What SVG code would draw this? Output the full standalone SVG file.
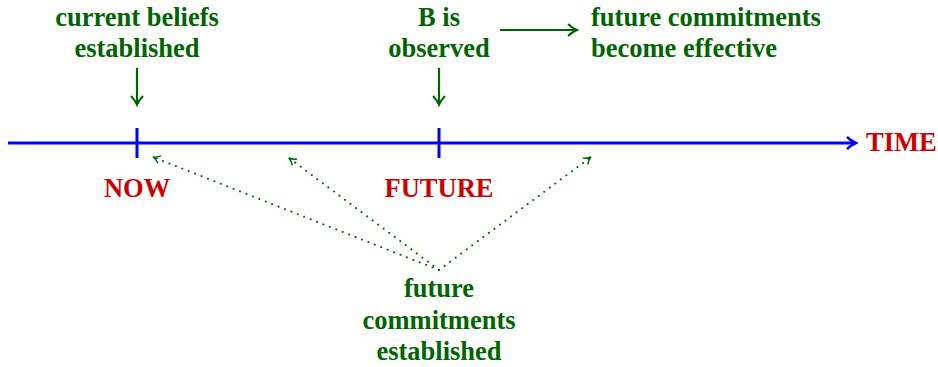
<svg xmlns="http://www.w3.org/2000/svg" width="938" height="367" viewBox="0 0 938 367">
<style>
text{font-family:"Liberation Serif","Times New Roman",Times,"DejaVu Serif","Noto Serif",serif;font-weight:700;font-size:26.5px}
.g{fill:#006400}
.r{fill:#cc0000}
.ax{stroke:#0000ff;stroke-width:3;fill:none}
.ga{stroke:#006400;stroke-width:2.2;fill:none}
.dot{stroke:#006400;stroke-width:2;fill:none;stroke-dasharray:0.1 6.8;stroke-linecap:round}
</style>
<defs>
<marker id="bh" markerWidth="12" markerHeight="14" refX="9" refY="7" orient="auto" markerUnits="userSpaceOnUse">
<path d="M1,1 Q5,5 10,7 Q5,9 1,13" stroke="#0000ff" stroke-width="2.5" fill="none"/>
</marker>
<marker id="gh" markerWidth="12" markerHeight="14" refX="9" refY="7" orient="auto" markerUnits="userSpaceOnUse">
<path d="M1,1 Q5,5 10,7 Q5,9 1,13" stroke="#006400" stroke-width="2" fill="none"/>
</marker>
<marker id="dh" markerWidth="10" markerHeight="10" refX="8" refY="5" orient="auto" markerUnits="userSpaceOnUse">
<path d="M1,1 Q4,4 8,5 Q4,6 1,9" stroke="#006400" stroke-width="1.5" fill="none"/>
</marker>
</defs>
<g id="connectors">
<line class="ax" x1="8" y1="143" x2="855" y2="143" marker-end="url(#bh)"/>
<line class="ax" x1="137" y1="128" x2="137" y2="158"/>
<line class="ax" x1="439" y1="128" x2="439" y2="158"/>
<line class="ga" x1="137" y1="68" x2="137" y2="104" marker-end="url(#gh)"/>
<line class="ga" x1="439" y1="68" x2="439" y2="104" marker-end="url(#gh)"/>
<line class="ga" x1="500" y1="30" x2="576" y2="30" marker-end="url(#gh)"/>
<line class="dot" x1="439" y1="270" x2="153" y2="157" marker-end="url(#dh)"/>
<line class="dot" x1="439" y1="270" x2="289" y2="158" marker-end="url(#dh)"/>
<line class="dot" x1="439" y1="270" x2="591" y2="157" marker-end="url(#dh)"/>
</g>
<g id="current-beliefs"><text class="g" x="137" y="26" text-anchor="middle">current beliefs</text><text class="g" x="137" y="57" text-anchor="middle">established</text></g>
<g id="b-observed"><text class="g" x="439" y="26" text-anchor="middle">B is</text><text class="g" x="439" y="57" text-anchor="middle">observed</text></g>
<g id="future-effective"><text class="g" x="591" y="26">future commitments</text><text class="g" x="591" y="57">become effective</text></g>
<g id="time"><text class="r" x="866" y="151">TIME</text></g>
<g id="now"><text class="r" x="137" y="197" text-anchor="middle">NOW</text></g>
<g id="future"><text class="r" x="439" y="197" text-anchor="middle">FUTURE</text></g>
<g id="future-established"><text class="g" x="439" y="297" text-anchor="middle">future</text><text class="g" x="439" y="329" text-anchor="middle">commitments</text><text class="g" x="439" y="360" text-anchor="middle">established</text></g>
</svg>
